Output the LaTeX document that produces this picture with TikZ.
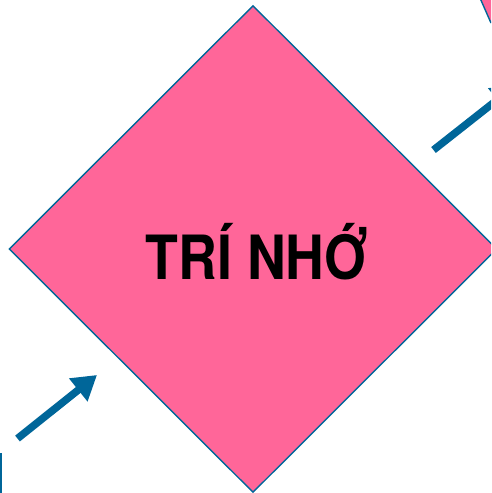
\documentclass[tikz,border=0pt]{standalone}
\usepackage{fontspec}
\setmainfont{TeX Gyre Heros}
\usetikzlibrary{shapes.geometric,arrows.meta}
\definecolor{rosefill}{RGB}{255,102,153}
\definecolor{edgeblue}{RGB}{0,102,153}
\tikzset{
  shapeedge/.style={draw=edgeblue,line width=1.4pt,fill=rosefill},
  flowarrow/.style={draw=edgeblue,line width=7.5pt,-{Triangle[length=24pt,width=28pt]}},
}
\begin{document}
\begin{tikzpicture}[x=1pt,y=-1pt]
\useasboundingbox (0,0) rectangle (491,493);
\clip (0,0) rectangle (491,493);
% main diamond
\node[diamond,shapeedge,inner sep=0pt,aspect=1.0,
      minimum width=488pt,minimum height=487pt] (memory) at (253,249) {};
\node[anchor=base,inner sep=0pt,font=\bfseries\fontsize{61}{61}\selectfont]
  (label) at (257,279) {\scalebox{0.88}[1]{TRÍ NHỚ}};
% neighbouring shapes cut by the frame
\fill[rosefill] (480,-2) -- (491,-2) -- (491,23) -- cycle;
\draw[edgeblue,line width=1.4pt] (480,-2) -- (491,23);
\draw[edgeblue,line width=2.4pt] (1,453) -- (1,495);
% arrows
\coordinate (a1s) at (17.5,438.5);
\coordinate (a1e) at (97,375);
\coordinate (a2s) at (433.5,150);
\coordinate (a2e) at (516,85);
\draw[flowarrow] (a1s) -- (a1e);
\draw[flowarrow] (a2s) -- (a2e);
\end{tikzpicture}
\end{document}
